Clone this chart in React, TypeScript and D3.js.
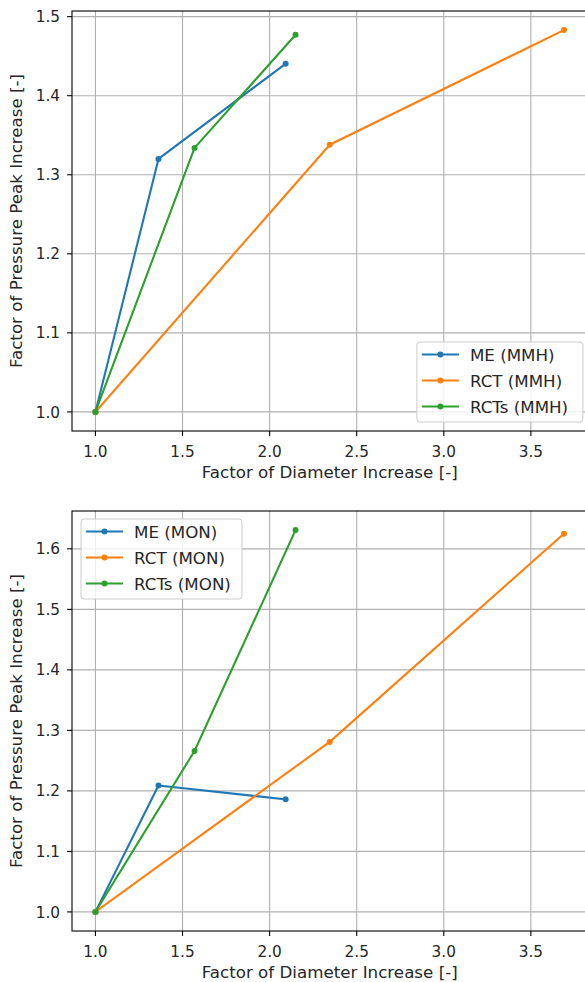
import React from "react";
import * as d3 from "d3";

const xTicks = [1.0, 1.5, 2.0, 2.5, 3.0, 3.5];
const yTicksTop = [1.0, 1.1, 1.2, 1.3, 1.4, 1.5];
const yTicksBottom = [1.0, 1.1, 1.2, 1.3, 1.4, 1.5, 1.6];

const seriesNames = ["ME", "RCT", "RCTs"];
const colors = ["#1f77b4", "#ff7f0e", "#2ca02c"];

const meX = [1.0, 1.362, 2.092];
const rctX = [1.0, 2.345, 3.69];
const rctsX = [1.0, 1.569, 2.149];

const meMMH = [1.0, 1.32, 1.4405];
const rctMMH = [1.0, 1.338, 1.483];
const rctsMMH = [1.0, 1.334, 1.477];

const meMON = [1.0, 1.209, 1.186];
const rctMON = [1.0, 1.281, 1.625];
const rctsMON = [1.0, 1.266, 1.631];

const xs = [meX, rctX, rctsX];

const FONT = "'DejaVu Sans', 'Liberation Sans', sans-serif";
const TICK_FS = 15.3;
const LABEL_FS = 16.7;

type PanelProps = {
  top: number;
  ys: number[][];
  yTicks: number[];
  suffix: string;
  legendPos: "lr" | "ul";
};

function Panel({ top, ys, yTicks, suffix, legendPos }: PanelProps) {
  const left = 72;
  const right = 587.4;
  const height = 420;
  const bottom = top + height;
  const allX = xs.flat();
  const allY = ys.flat();
  const [x0, x1] = d3.extent(allX) as [number, number];
  const [y0, y1] = d3.extent(allY) as [number, number];
  const mx = (x1 - x0) * 0.05;
  const my = (y1 - y0) * 0.05;
  const x = d3.scaleLinear().domain([x0 - mx, x1 + mx]).range([left, right]);
  const y = d3.scaleLinear().domain([y0 - my, y1 + my]).range([bottom, top]);
  const line = d3
    .line<[number, number]>()
    .x((d) => x(d[0]))
    .y((d) => y(d[1]));

  const lw = 37;
  const legW = legendPos === "lr" ? 166 : 161;
  const legH = 80;
  const legX = legendPos === "lr" ? right - 4.5 - legW : left + 9;
  const legY = legendPos === "lr" ? bottom - 9 - legH : top + 8;

  return (
    <g>
      <rect x={left} y={top} width={right - left} height={height} fill="white" />
      {xTicks.map((t) => (
        <line key={"gx" + t} x1={x(t)} x2={x(t)} y1={top} y2={bottom} stroke="#b0b0b0" strokeWidth={1.1} />
      ))}
      {yTicks.map((t) => (
        <line key={"gy" + t} x1={left} x2={right} y1={y(t)} y2={y(t)} stroke="#b0b0b0" strokeWidth={1.1} />
      ))}
      {xs.map((xv, i) => {
        const pts = xv.map((v, j) => [v, ys[i][j]] as [number, number]);
        return (
          <g key={"s" + i}>
            <path d={line(pts) || ""} fill="none" stroke={colors[i]} strokeWidth={2.08} strokeLinejoin="round" strokeLinecap="square" />
            {pts.map((p, j) => (
              <circle key={j} cx={x(p[0])} cy={y(p[1])} r={3} fill={colors[i]} />
            ))}
          </g>
        );
      })}
      <rect x={left} y={top} width={right - left} height={height} fill="none" stroke="black" strokeWidth={1.1} />
      {xTicks.map((t) => (
        <g key={"tx" + t}>
          <line x1={x(t)} x2={x(t)} y1={bottom} y2={bottom + 4.9} stroke="black" strokeWidth={1.1} />
          <text x={x(t)} y={bottom + 25.5} textAnchor="middle" fontFamily={FONT} fontSize={TICK_FS} fill="#262626">
            {t.toFixed(1)}
          </text>
        </g>
      ))}
      {yTicks.map((t) => (
        <g key={"ty" + t}>
          <line x1={left - 4.9} x2={left} y1={y(t)} y2={y(t)} stroke="black" strokeWidth={1.1} />
          <text x={left - 12} y={y(t) + 5.6} textAnchor="end" fontFamily={FONT} fontSize={TICK_FS} fill="#262626">
            {t.toFixed(1)}
          </text>
        </g>
      ))}
      <text x={(left + right) / 2} y={bottom + 47} textAnchor="middle" fontFamily={FONT} fontSize={LABEL_FS} fill="#262626">
        Factor of Diameter Increase [-]
      </text>
      <text
        transform={`translate(21.5,${(top + bottom) / 2}) rotate(-90)`}
        textAnchor="middle"
        fontFamily={FONT}
        fontSize={LABEL_FS}
        fill="#262626"
      >
        Factor of Pressure Peak Increase [-]
      </text>
      <g>
        <rect x={legX} y={legY} width={legW} height={legH} rx={3} ry={3} fill="white" fillOpacity={0.8} stroke="#cccccc" strokeWidth={1} />
        {seriesNames.map((n, i) => {
          const cy = legY + 12.5 + i * 26;
          return (
            <g key={"l" + i}>
              <line x1={legX + 5} x2={legX + 5 + lw} y1={cy} y2={cy} stroke={colors[i]} strokeWidth={2.08} />
              <circle cx={legX + 5 + lw / 2} cy={cy} r={3} fill={colors[i]} />
              <text x={legX + 53} y={cy + 6} fontFamily={FONT} fontSize={LABEL_FS} fill="#262626">
                {`${n} (${suffix})`}
              </text>
            </g>
          );
        })}
      </g>
    </g>
  );
}

export default function App() {
  return (
    <svg
      width={585}
      height={982}
      style={{ position: "absolute", left: 0, top: 0, background: "white" }}
    >
      <rect x={0} y={0} width={585} height={982} fill="white" />
      <Panel top={11} ys={[meMMH, rctMMH, rctsMMH]} yTicks={yTicksTop} suffix="MMH" legendPos="lr" />
      <Panel top={511} ys={[meMON, rctMON, rctsMON]} yTicks={yTicksBottom} suffix="MON" legendPos="ul" />
    </svg>
  );
}
